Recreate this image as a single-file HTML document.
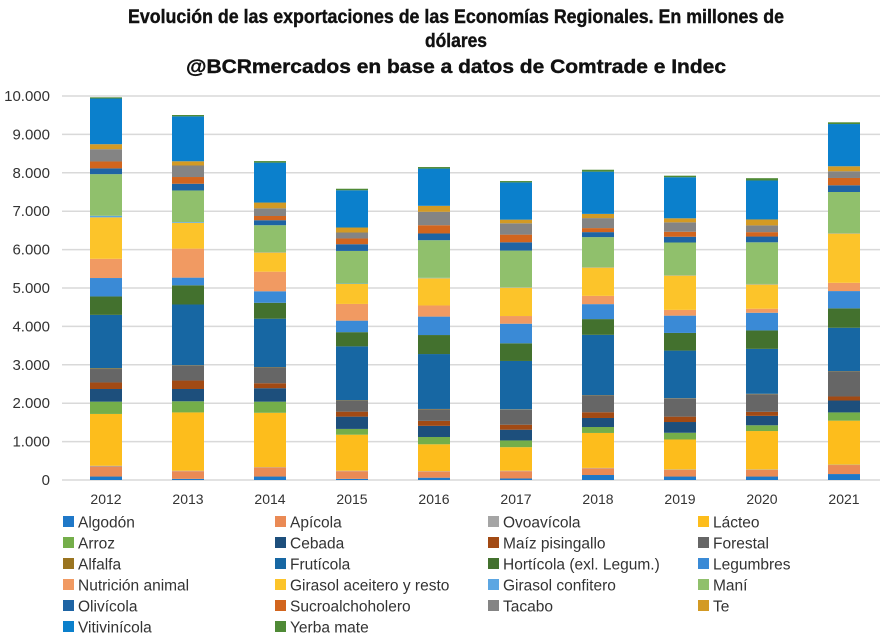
<!DOCTYPE html>
<html><head><meta charset="utf-8"><style>
body{margin:0;background:#fff;}
svg{display:block;font-family:"Liberation Sans",sans-serif;}
</style></head><body>
<svg id="chart" width="888" height="642">
<g font-weight="bold" fill="#111" font-size="19" text-anchor="middle" stroke="#111" stroke-width="0.4">
<text x="456" y="23" textLength="656" lengthAdjust="spacingAndGlyphs">Evolución de las exportaciones de las Economías Regionales. En millones de</text>
<text x="456" y="47" textLength="62" lengthAdjust="spacingAndGlyphs">dólares</text>
<text x="456" y="73" textLength="540" lengthAdjust="spacingAndGlyphs">@BCRmercados en base a datos de Comtrade e Indec</text>
</g>
<g id="grid"></g><g id="bars"></g><g id="axes"></g><g id="legend"></g>
</svg>
<script>
const years=["2012","2013","2014","2015","2016","2017","2018","2019","2020","2021"];
const seriesNames=["Algodón","Apícola","Ovoavícola","Lácteo","Arroz","Cebada","Maíz pisingallo","Forestal","Alfalfa","Frutícola","Hortícola (exl. Legum.)","Legumbres","Nutrición animal","Girasol aceitero y resto","Girasol confitero","Maní","Olivícola","Sucroalchoholero","Tacabo","Te","Vitivinícola","Yerba mate"];
const colors=["#1f78c8","#ea8a55","#a5a5a5","#fdbd1c","#74ae4a","#1d4f7c","#a24a14","#666666","#9a7420","#1767a3","#43712e","#3a8ad6","#f19a62","#fcc42a","#5ca6e2","#90c06c","#1e64a4","#d2651e","#848484","#d39a24","#0b80cc","#4f8a36"];
const v2012=[90,260,20,1350,320,330,170,350,20,1390,480,480,500,1080,40,1085,150,180,320,130,1190,30];
const v2013=[30,200,10,1520,290,320,220,390,10,1580,500,200,755,670,20,825,175,175,300,110,1170,35];
const v2014=[90,235,10,1415,290,350,130,410,10,1260,415,300,510,500,10,700,130,110,200,150,1040,40];
const v2015=[30,200,10,940,150,320,130,290,10,1400,370,300,435,520,10,850,175,150,155,130,970,40];
const v2016=[60,160,10,700,190,290,130,300,10,1430,495,480,290,710,10,980,175,215,350,155,970,40];
const v2017=[40,190,10,615,175,280,130,390,10,1260,460,510,200,740,10,955,215,200,295,95,970,35];
const v2018=[130,175,10,910,155,235,150,435,10,1570,410,390,215,740,10,780,130,105,260,110,1100,50];
const v2019=[90,175,10,780,175,280,140,470,10,1240,460,450,150,895,10,850,150,130,245,105,1070,40];
const v2020=[90,175,10,1000,150,245,105,460,10,1170,480,460,105,635,10,1085,150,115,175,155,1015,60];
const v2021=[155,235,10,1145,215,310,105,650,10,1130,505,450,215,1285,10,1070,175,190,175,130,1100,45];
const values=[v2012,v2013,v2014,v2015,v2016,v2017,v2018,v2019,v2020,v2021];
const yTicks=[0,1000,2000,3000,4000,5000,6000,7000,8000,9000,10000];
const yTickLabels=["0","1.000","2.000","3.000","4.000","5.000","6.000","7.000","8.000","9.000","10.000"];

const NS="http://www.w3.org/2000/svg";
function mk(t,a,p){const e=document.createElementNS(NS,t);for(const k in a)e.setAttribute(k,a[k]);p.appendChild(e);return e;}
const y=v=>480-v*0.0384;
const x=i=>106+i*82;
const bw=32;
const grid=document.getElementById('grid'),axes=document.getElementById('axes'),bars=document.getElementById('bars'),leg=document.getElementById('legend');
yTicks.forEach((t,i)=>{
  const l=mk('line',{x1:62,x2:880,y1:y(t),y2:y(t),stroke:'#d9d9d9','stroke-width':1.5},grid);
  
  
  const tx=mk('text',{x:50,y:y(t)+5,'text-anchor':'end','font-size':15,fill:'#333'},axes);
  tx.textContent=yTickLabels[i];
  
  
});
years.forEach((yr,i)=>{
  let acc=0;
  values[i].forEach((v,s)=>{
    const r=mk('rect',{x:x(i)-bw/2,y:y(acc+v),width:bw,height:v*0.0384,fill:colors[s]},bars);
    
    
    acc+=v;
  });
  const tx=mk('text',{x:x(i),y:504,'text-anchor':'middle','font-size':14,fill:'#333'},axes);
  tx.textContent=yr;
  
  
});
const colX=[63,275,488,698], rowY=[522,543,564,585,606,627];
seriesNames.forEach((n,i)=>{
  const c=i%4,r=Math.floor(i/4);
  const g=mk('g',{},leg);
  
  
  mk('rect',{x:colX[c],y:rowY[r]-6,width:11,height:11,fill:colors[i]},g);
  const t=mk('text',{x:colX[c]+15,y:rowY[r]+5.5,'font-size':15.5,fill:'#333'},g);
  t.textContent=n;
});
</script>
</body></html>
